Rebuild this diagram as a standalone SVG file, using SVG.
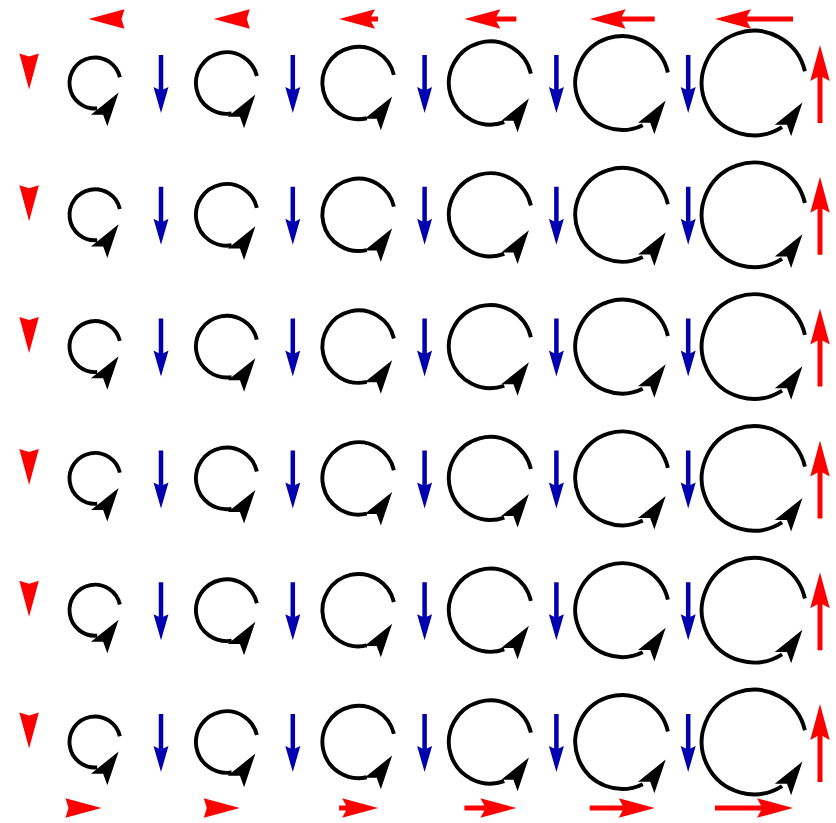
<svg xmlns="http://www.w3.org/2000/svg" xmlns:xlink="http://www.w3.org/1999/xlink" width="836" height="823" viewBox="0 0 836 823">
<style>
.arc{fill:none;stroke:#000;stroke-width:3.9}
.hd{fill:#000}
.blue{fill:#0000b0}
.red{fill:#ff0000}
</style>
<defs>
<path id="bh" d="M0,0 L-34,-10 L-27,0 L-34,10 Z"/>
<path id="blue" d="M0,0 L-7.5,-26 L-2.25,-23.4 L-2.25,-58 L2.25,-58 L2.25,-23.4 L7.5,-26 Z"/>
<path id="r0" d="M0,0 L-36,-9.75 L-33,0 L-36,9.75 Z"/>
<path id="r2" d="M0,0 L-36,-9.75 L-32,-2.5 L-39,-2.5 L-39,2.5 L-32,2.5 L-36,9.75 Z"/>
<path id="r3" d="M0,0 L-36,-9.75 L-32,-2.5 L-52,-2.5 L-52,2.5 L-32,2.5 L-36,9.75 Z"/>
<path id="r4" d="M0,0 L-36,-9.75 L-32,-2.5 L-65,-2.5 L-65,2.5 L-32,2.5 L-36,9.75 Z"/>
<path id="r5" d="M0,0 L-36,-9.75 L-32,-2.5 L-78,-2.5 L-78,2.5 L-32,2.5 L-36,9.75 Z"/>
<g id="c0"><path class="arc" d="M24.85,-5.74 A25.5,25.5 0 1 0 2.22,25.4"/><use href="#bh" class="hd" transform="translate(23.64,9.55) rotate(-55)"/></g>
<g id="c1"><path class="arc" d="M30.06,-6.94 A30.85,30.85 0 1 0 4.83,30.47"/><use href="#bh" class="hd" transform="translate(28.60,11.56) rotate(-55)"/></g>
<g id="c2"><path class="arc" d="M35.27,-8.15 A36.2,36.2 0 1 0 8.15,35.27"/><use href="#bh" class="hd" transform="translate(33.56,13.56) rotate(-55)"/></g>
<g id="c3"><path class="arc" d="M40.49,-9.35 A41.55,41.55 0 1 0 13.87,39.16"/><use href="#bh" class="hd" transform="translate(38.52,15.56) rotate(-55)"/></g>
<g id="c4"><path class="arc" d="M45.70,-10.55 A46.9,46.9 0 1 0 20.56,42.15"/><use href="#bh" class="hd" transform="translate(43.49,17.57) rotate(-55)"/></g>
<g id="c5"><path class="arc" d="M50.91,-11.76 A52.25,52.25 0 1 0 28.07,44.07"/><use href="#bh" class="hd" transform="translate(48.45,19.57) rotate(-55)"/></g>
</defs>

<g id="nodes">
<g id="n1-1"><use href="#c0" x="95" y="83"/></g>
<g id="n1-2"><use href="#c1" x="226.8" y="83"/></g>
<g id="n1-3"><use href="#c2" x="358.6" y="83"/></g>
<g id="n1-4"><use href="#c3" x="490.4" y="83"/></g>
<g id="n1-5"><use href="#c4" x="622.2" y="83"/></g>
<g id="n1-6"><use href="#c5" x="754" y="83"/></g>
<g id="n2-1"><use href="#c0" x="95" y="214.8"/></g>
<g id="n2-2"><use href="#c1" x="226.8" y="214.8"/></g>
<g id="n2-3"><use href="#c2" x="358.6" y="214.8"/></g>
<g id="n2-4"><use href="#c3" x="490.4" y="214.8"/></g>
<g id="n2-5"><use href="#c4" x="622.2" y="214.8"/></g>
<g id="n2-6"><use href="#c5" x="754" y="214.8"/></g>
<g id="n3-1"><use href="#c0" x="95" y="346.6"/></g>
<g id="n3-2"><use href="#c1" x="226.8" y="346.6"/></g>
<g id="n3-3"><use href="#c2" x="358.6" y="346.6"/></g>
<g id="n3-4"><use href="#c3" x="490.4" y="346.6"/></g>
<g id="n3-5"><use href="#c4" x="622.2" y="346.6"/></g>
<g id="n3-6"><use href="#c5" x="754" y="346.6"/></g>
<g id="n4-1"><use href="#c0" x="95" y="478.4"/></g>
<g id="n4-2"><use href="#c1" x="226.8" y="478.4"/></g>
<g id="n4-3"><use href="#c2" x="358.6" y="478.4"/></g>
<g id="n4-4"><use href="#c3" x="490.4" y="478.4"/></g>
<g id="n4-5"><use href="#c4" x="622.2" y="478.4"/></g>
<g id="n4-6"><use href="#c5" x="754" y="478.4"/></g>
<g id="n5-1"><use href="#c0" x="95" y="610.2"/></g>
<g id="n5-2"><use href="#c1" x="226.8" y="610.2"/></g>
<g id="n5-3"><use href="#c2" x="358.6" y="610.2"/></g>
<g id="n5-4"><use href="#c3" x="490.4" y="610.2"/></g>
<g id="n5-5"><use href="#c4" x="622.2" y="610.2"/></g>
<g id="n5-6"><use href="#c5" x="754" y="610.2"/></g>
<g id="n6-1"><use href="#c0" x="95" y="742"/></g>
<g id="n6-2"><use href="#c1" x="226.8" y="742"/></g>
<g id="n6-3"><use href="#c2" x="358.6" y="742"/></g>
<g id="n6-4"><use href="#c3" x="490.4" y="742"/></g>
<g id="n6-5"><use href="#c4" x="622.2" y="742"/></g>
<g id="n6-6"><use href="#c5" x="754" y="742"/></g>
</g>

<g id="connectors">
<g id="blue-arrows" class="blue">
<use href="#blue" transform="translate(161,113)"/><use href="#blue" transform="translate(292.8,113)"/><use href="#blue" transform="translate(424.6,113)"/><use href="#blue" transform="translate(556.4,113)"/><use href="#blue" transform="translate(688.2,113)"/>
<use href="#blue" transform="translate(161,244.8)"/><use href="#blue" transform="translate(292.8,244.8)"/><use href="#blue" transform="translate(424.6,244.8)"/><use href="#blue" transform="translate(556.4,244.8)"/><use href="#blue" transform="translate(688.2,244.8)"/>
<use href="#blue" transform="translate(161,376.6)"/><use href="#blue" transform="translate(292.8,376.6)"/><use href="#blue" transform="translate(424.6,376.6)"/><use href="#blue" transform="translate(556.4,376.6)"/><use href="#blue" transform="translate(688.2,376.6)"/>
<use href="#blue" transform="translate(161,508.4)"/><use href="#blue" transform="translate(292.8,508.4)"/><use href="#blue" transform="translate(424.6,508.4)"/><use href="#blue" transform="translate(556.4,508.4)"/><use href="#blue" transform="translate(688.2,508.4)"/>
<use href="#blue" transform="translate(161,640.2)"/><use href="#blue" transform="translate(292.8,640.2)"/><use href="#blue" transform="translate(424.6,640.2)"/><use href="#blue" transform="translate(556.4,640.2)"/><use href="#blue" transform="translate(688.2,640.2)"/>
<use href="#blue" transform="translate(161,772)"/><use href="#blue" transform="translate(292.8,772)"/><use href="#blue" transform="translate(424.6,772)"/><use href="#blue" transform="translate(556.4,772)"/><use href="#blue" transform="translate(688.2,772)"/>
</g>
<g id="top-arrows" class="red">
<use href="#r0" transform="translate(88.5,19) rotate(180)"/>
<use href="#r0" transform="translate(213.8,19) rotate(180)"/>
<use href="#r2" transform="translate(339.1,19) rotate(180)"/>
<use href="#r3" transform="translate(464.4,19) rotate(180)"/>
<use href="#r4" transform="translate(589.7,19) rotate(180)"/>
<use href="#r5" transform="translate(715,19) rotate(180)"/>
</g>
<g id="bottom-arrows" class="red">
<use href="#r0" transform="translate(101.5,808)"/>
<use href="#r0" transform="translate(239.8,808)"/>
<use href="#r2" transform="translate(378.1,808)"/>
<use href="#r3" transform="translate(516.4,808)"/>
<use href="#r4" transform="translate(654.7,808)"/>
<use href="#r5" transform="translate(793,808)"/>
</g>
<g id="left-arrows" class="red">
<use href="#r0" transform="translate(29.1,89.5) rotate(90)"/>
<use href="#r0" transform="translate(29.1,221.3) rotate(90)"/>
<use href="#r0" transform="translate(29.1,353.1) rotate(90)"/>
<use href="#r0" transform="translate(29.1,484.9) rotate(90)"/>
<use href="#r0" transform="translate(29.1,616.7) rotate(90)"/>
<use href="#r0" transform="translate(29.1,748.5) rotate(90)"/>
</g>
<g id="right-arrows" class="red">
<use href="#r5" transform="translate(820,45) rotate(-90)"/>
<use href="#r5" transform="translate(820,176.8) rotate(-90)"/>
<use href="#r5" transform="translate(820,308.6) rotate(-90)"/>
<use href="#r5" transform="translate(820,440.4) rotate(-90)"/>
<use href="#r5" transform="translate(820,572.2) rotate(-90)"/>
<use href="#r5" transform="translate(820,704) rotate(-90)"/>
</g>
</g>
</svg>
